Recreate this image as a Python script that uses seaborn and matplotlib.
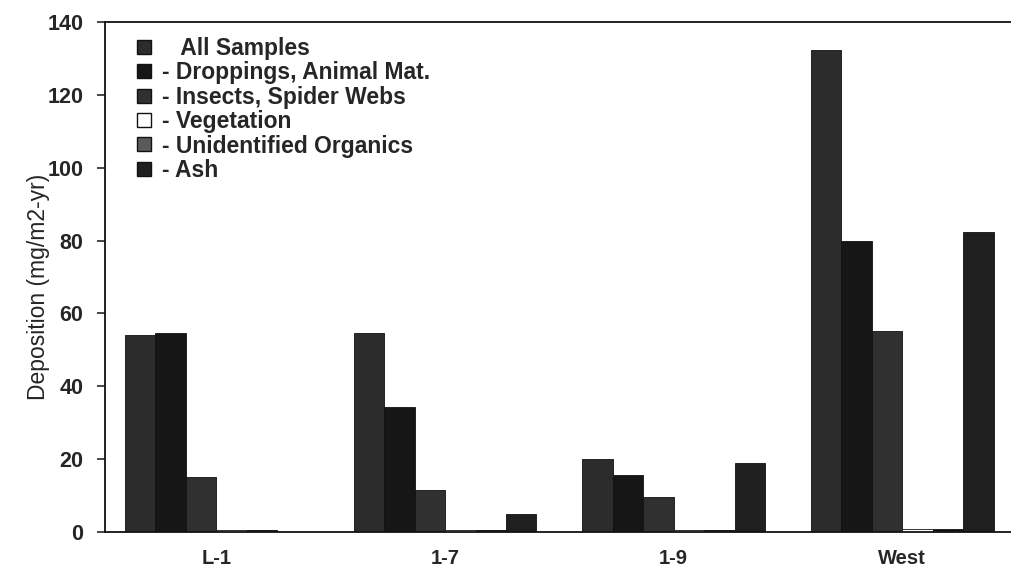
import matplotlib
matplotlib.use("Agg")
import matplotlib.pyplot as plt
import seaborn as sns
import pandas as pd
from matplotlib.lines import Line2D

sites = ["L-1", "1-7", "1-9", "West"]
series = ["All Samples", "- Droppings, Animal Mat.", "- Insects, Spider Webs",
          "- Vegetation", "- Unidentified Organics", "- Ash"]
all_samples = [54.2, 54.7, 20.0, 132.3]
droppings = [54.7, 34.3, 15.7, 80.0]
insects = [15.1, 11.5, 9.5, 55.1]
vegetation = [0.5, 0.5, 0.5, 0.9]
unidentified = [0.5, 0.5, 0.5, 0.9]
ash = [0.0, 5.0, 18.9, 82.3]
yticks = [0, 20, 40, 60, 80, 100, 120, 140]

values = [all_samples, droppings, insects, vegetation, unidentified, ash]
rows = []
for s, vals in zip(series, values):
    for site, v in zip(sites, vals):
        rows.append({"Site": site, "Series": s, "Deposition": v})
df = pd.DataFrame(rows)

colors = ["#2c2c2c", "#161616", "#303030", "#ffffff", "#5a5a5a", "#1f1f1f"]
hatches = ["", "", "", "", "+++", ""]

sns.set_style("white")
plt.rcParams["font.family"] = ["Liberation Sans", "DejaVu Sans"]

fig = plt.figure(figsize=(10.11, 5.76), dpi=100)
ax = fig.add_axes([105 / 1011, 1 - 532 / 576, 1 - 105 / 1011 + 0.01, (532 - 22) / 576])

sns.barplot(data=df, x="Site", y="Deposition", hue="Series", hue_order=series,
            order=sites, palette=colors, width=0.8, saturation=1, ax=ax,
            edgecolor="#111111", linewidth=0.6, legend=False)

for cont, h in zip(ax.containers, hatches):
    for p in cont:
        if h:
            p.set_hatch(h)

ax.set_ylim(0, 140)
ax.set_xlim(-0.4875, 3.52)
ax.set_yticks(yticks)
ax.set_yticklabels([str(t) for t in yticks], fontsize=15.5, fontweight="bold")
ax.set_xticks(range(len(sites)))
ax.set_xticklabels(sites, fontsize=14.5, fontweight="bold")
ax.tick_params(axis="x", length=0, pad=12)
ax.tick_params(axis="y", direction="out", length=6, width=1.2, left=True, pad=9.5)
ax.set_xlabel("")
ax.set_ylabel("Deposition (mg/m2-yr)", fontsize=16.5)
ax.yaxis.set_label_coords(-0.060, 0.48)

for side in ["left", "bottom", "top"]:
    ax.spines[side].set_visible(True)
    ax.spines[side].set_color("#111111")
    ax.spines[side].set_linewidth(1.3)
ax.spines["right"].set_visible(False)

labels = ["   All Samples"] + series[1:]
handles = [Line2D([0], [0], marker="s", linestyle="none", markersize=10,
                  markerfacecolor=c, markeredgecolor="#111111", markeredgewidth=1)
           for c in colors]
leg = ax.legend(handles, labels, loc="upper left", bbox_to_anchor=(0.006, 1.011),
                frameon=False, handletextpad=0.25, labelspacing=0.06,
                prop={"weight": "bold", "size": 16.5}, handlelength=1.1)

fig.savefig("out.png", dpi=100)
